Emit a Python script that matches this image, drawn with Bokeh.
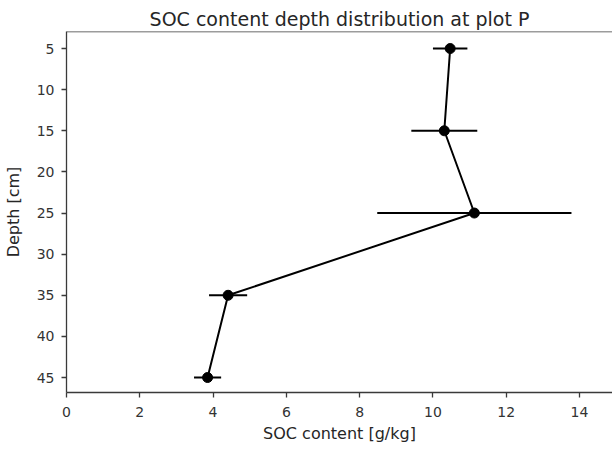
from bokeh.plotting import figure
from bokeh.models import ColumnDataSource, Range1d, FixedTicker, Span
from bokeh.embed import file_html
from bokeh.resources import INLINE

depth = [5, 15, 25, 35, 45]
soc = [10.47, 10.31, 11.13, 4.41, 3.85]
soc_err = [0.47, 0.90, 2.65, 0.52, 0.37]
x_ticks = [0, 2, 4, 6, 8, 10, 12, 14]
y_ticks = [5, 10, 15, 20, 25, 30, 35, 40, 45]

src = ColumnDataSource(dict(
    depth=depth, soc=soc,
    lo=[s - e for s, e in zip(soc, soc_err)],
    hi=[s + e for s, e in zip(soc, soc_err)],
))

FONT = "DejaVu Sans"
SPINE = "#3a3a3a"
y_top = 2.93
p = figure(width=612, height=450, output_backend="svg", toolbar_location=None,
           x_range=Range1d(0, 14.9), y_range=Range1d(46.82, y_top),
           title="SOC content depth distribution at plot P",
           min_border_left=66, min_border_right=0, min_border_top=31, min_border_bottom=58)

p.title.text_font = FONT
p.title.text_font_size = "19px"
p.title.text_font_style = "normal"
p.title.text_color = "#262626"
p.title.align = "center"
p.title.standoff = 3

p.grid.visible = False
p.outline_line_color = None
p.add_layout(Span(location=y_top, dimension="width", line_color=SPINE, line_width=1.3))

for ax in (p.xaxis[0], p.yaxis[0]):
    ax.axis_line_color = SPINE
    ax.axis_line_width = 1.3
    ax.major_tick_line_color = SPINE
    ax.major_tick_line_width = 1.3
    ax.major_tick_out = 5
    ax.major_tick_in = 0
    ax.minor_tick_line_color = None
    ax.major_label_text_font = FONT
    ax.major_label_text_font_size = "14px"
    ax.major_label_text_color = "#333333"
    ax.axis_label_text_font = FONT
    ax.axis_label_text_font_size = "16px"
    ax.axis_label_text_font_style = "normal"
    ax.axis_label_text_color = "#262626"

p.xaxis.ticker = FixedTicker(ticks=x_ticks)
p.yaxis.ticker = FixedTicker(ticks=y_ticks)
p.xaxis.axis_label = "SOC content [g/kg]"
p.yaxis.axis_label = "Depth [cm]"
p.xaxis.major_label_standoff = 9
p.xaxis.axis_label_standoff = 4
p.yaxis.major_label_standoff = 7
p.yaxis.axis_label_standoff = 11

p.segment(x0="lo", y0="depth", x1="hi", y1="depth", source=src, line_color="black", line_width=2)
p.line(x="soc", y="depth", source=src, line_color="black", line_width=2)
p.scatter(x="soc", y="depth", source=src, size=10, fill_color="black", line_color="black")

open("out.html", "w").write(file_html(p, INLINE))
